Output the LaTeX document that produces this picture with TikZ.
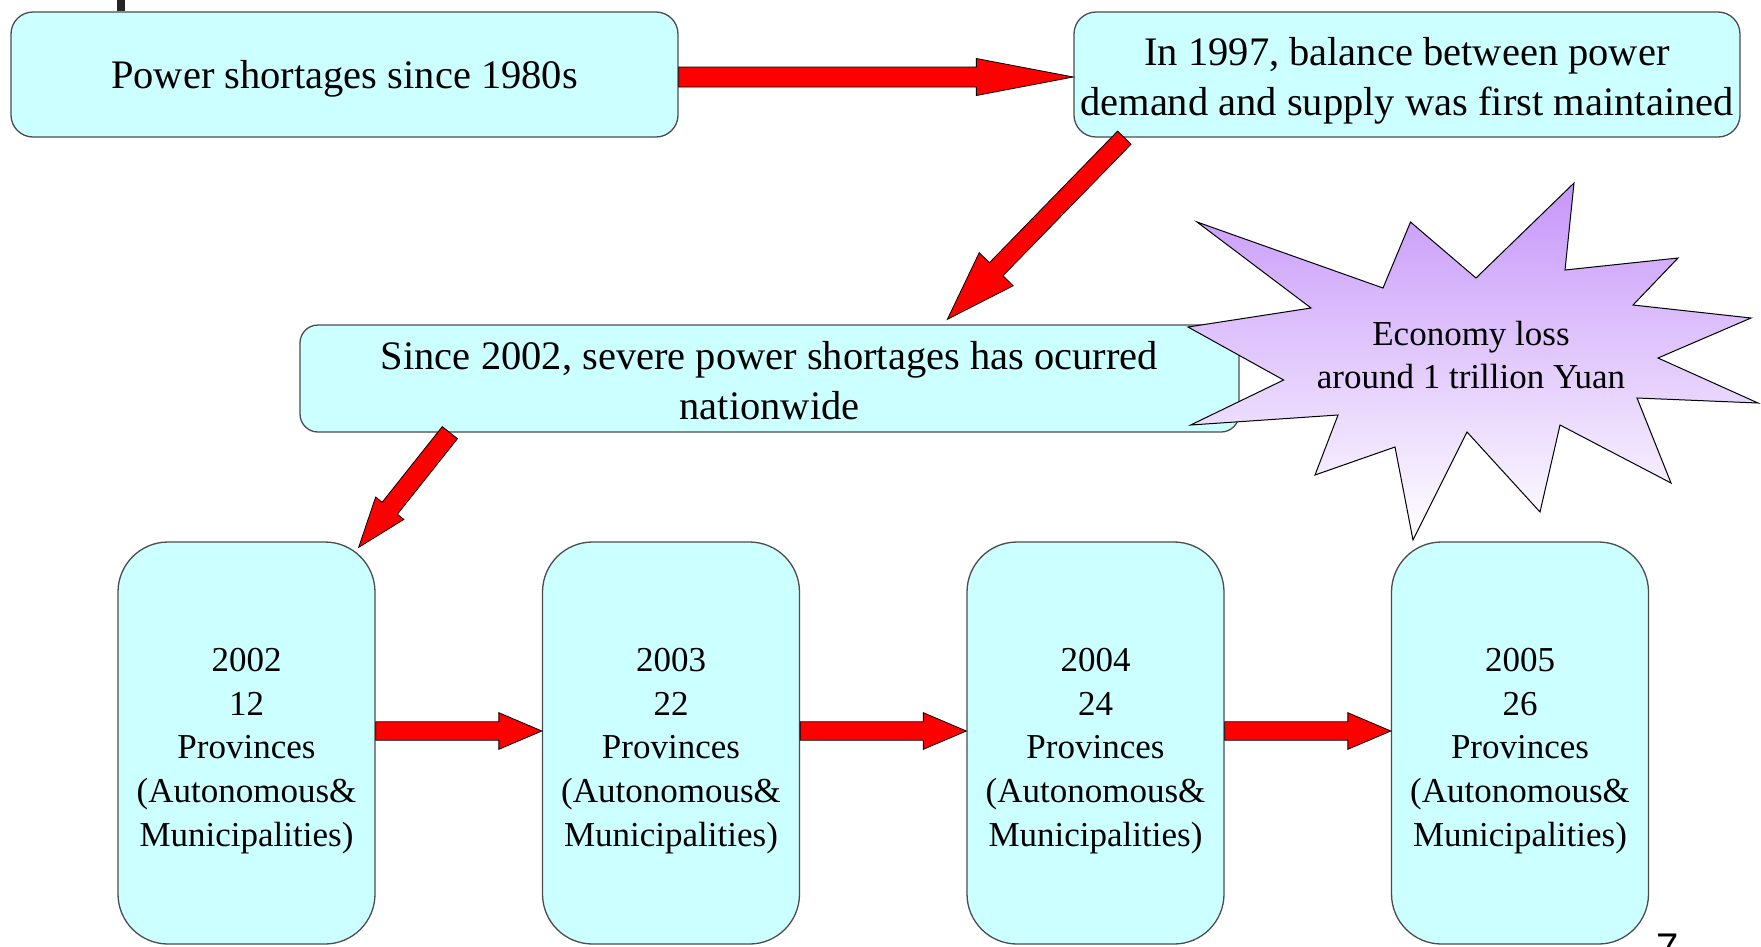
\documentclass[tikz,border=0pt]{standalone}
\usepackage{fontspec}
\setmainfont{Liberation Serif}
\newfontfamily\pgfont{Liberation Sans}
\usetikzlibrary{calc}
\definecolor{boxfill}{RGB}{204,255,255}
\definecolor{starpurple}{RGB}{198,150,250}
\tikzset{
  box/.style={draw=black!70, line width=1.3pt, fill=boxfill, rounded corners=22pt, inner sep=0pt},
  yearbox/.style={box, rounded corners=50pt, minimum width=257pt, minimum height=402pt},
  bigtext/.style={align=center, inner sep=0pt, font=\fontsize{40.5}{50}\selectfont},
  smalltext/.style={align=center, inner sep=0pt, font=\fontsize{35}{43.8}\selectfont},
  redarrow/.style={fill=red, draw=black, line width=0.8pt, line join=miter},
}
% start, end, shaft half width, head half width, head length
\newcommand\blkarrow[5]{%
  \path (#1) coordinate (ba-s) (#2) coordinate (ba-e);
  \path ($(ba-e)!#5!(ba-s)$) coordinate (ba-h);
  \draw[redarrow] ($(ba-s)!#3!90:(ba-e)$) -- ($(ba-h)!#3!90:(ba-e)$)
    -- ($(ba-h)!#4!90:(ba-e)$) -- (ba-e) -- ($(ba-h)!#4!-90:(ba-e)$)
    -- ($(ba-h)!#3!-90:(ba-e)$) -- ($(ba-s)!#3!-90:(ba-e)$) -- cycle;}
\begin{document}
\begin{tikzpicture}[x=1pt,y=-1pt]
\useasboundingbox (0,0) rectangle (1761,946);
\fill[white] (0,0) rectangle (1761,946);
% slide artifacts
\fill[black!85] (117,0) rectangle (125,11);
\node[font=\fontsize{40}{40}\pgfont, anchor=north west, inner sep=0pt] (pg) at (1656,934) {7};

% boxes
\node[box, minimum width=667pt, minimum height=125pt] (b1) at (344.5,74.5) {};
\node[bigtext] (b1t) at ($(b1)+(0,4.5)$) {Power shortages since 1980s};
\node[box, minimum width=666pt, minimum height=125pt] (b2) at (1407,74.5) {};
\node[bigtext] (b2t) at ($(b2)+(0,6)$) {In 1997, balance between power\\demand and supply was first maintained};
\node[box, rounded corners=18pt, minimum width=939pt, minimum height=107pt] (b3) at (769.5,378.5) {};
\node[bigtext] (b3t) at ($(b3)+(0,2)$) {Since 2002, severe power shortages has ocurred\\nationwide};

\node[yearbox] (b4) at (246.5,743) {};
\node[smalltext] (b4t) at ($(b4)+(0,8)$) {2002\\12\\Provinces\\(Autonomous\&\\Municipalities)};
\node[yearbox] (b5) at (671,743) {};
\node[smalltext] (b5t) at ($(b5)+(0,8)$) {2003\\22\\Provinces\\(Autonomous\&\\Municipalities)};
\node[yearbox] (b6) at (1095.5,743) {};
\node[smalltext] (b6t) at ($(b6)+(0,8)$) {2004\\24\\Provinces\\(Autonomous\&\\Municipalities)};
\node[yearbox] (b7) at (1520,743) {};
\node[smalltext] (b7t) at ($(b7)+(0,8)$) {2005\\26\\Provinces\\(Autonomous\&\\Municipalities)};

% star
\shadedraw[top color=starpurple, bottom color=white, draw=black, line width=1pt, line join=miter]
  (1197,222) -- (1383,288) -- (1410.5,222) -- (1476,278) -- (1574,183) -- (1565,270)
  -- (1678,258) -- (1633,305) -- (1751,318) -- (1658,358) -- (1758,403) -- (1637,398)
  -- (1671,483) -- (1560,425) -- (1540,512) -- (1467,432) -- (1413,540) -- (1395,447)
  -- (1315,475) -- (1338,415) -- (1190.6,425) -- (1283.6,380) -- (1188,327) -- (1311,308) -- cycle;
\node[smalltext] (st) at (1471,355) {Economy loss\\around 1 trillion Yuan};

% arrows
\blkarrow{$(b1.east)+(0,2.5)$}{$(b2.west)+(0,2.5)$}{10pt}{18.5pt}{97pt}
\blkarrow{$(b2.south west)+(51,0)$}{$(b3.north west)+(648,-5)$}{9.4pt}{23.7pt}{70pt}
\blkarrow{$(b3.south west)+(150.5,0)$}{$(b4.north east)+(-17,6)$}{9.7pt}{18pt}{50pt}
\blkarrow{$(b4.east)+(0,-12)$}{$(b5.west)+(0,-12)$}{9.2pt}{18.3pt}{43pt}
\blkarrow{$(b5.east)+(0,-12)$}{$(b6.west)+(0,-12)$}{9.2pt}{18.3pt}{43pt}
\blkarrow{$(b6.east)+(0,-12)$}{$(b7.west)+(0,-12)$}{9.2pt}{18.3pt}{43pt}
\end{tikzpicture}
\end{document}
